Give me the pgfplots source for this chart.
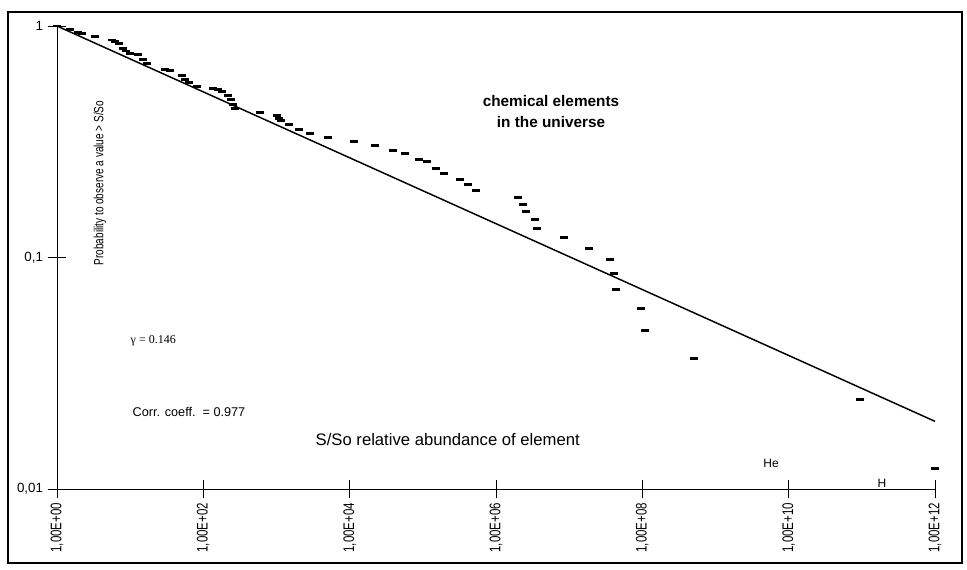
\documentclass[border=0pt]{standalone}
\usepackage{pgfplots}
\pgfplotsset{compat=1.18}
\usepackage{fontspec}
\setmainfont{Liberation Sans}
\newfontfamily\narrow[FakeStretch=0.75]{Liberation Sans}
\newfontfamily\tnr{Liberation Serif}

\begin{document}
\begin{tikzpicture}[x=0.75pt,y=-0.75pt]
% page = 967 x 570 px, 1 px = 0.75 pt, origin top left
\path (0,0) rectangle (967,570);
\draw[line width=1.5pt] (8,12) rectangle (962,563);

\begin{axis}[
  at={(42.75pt,-366.75pt)}, anchor=south west,
  scale only axis,
  width=658.5pt, height=347.25pt,
  xmode=log, ymode=log,
  xmin=1, xmax=1e12, ymin=0.01, ymax=1,
  axis x line=bottom, axis y line=left,
  axis line style={-, black, line width=0.6pt},
  clip=false,
  tick align=center,
  major tick length=14pt,
  tick style={black, line width=0.6pt},
  xminorticks=false, yminorticks=false,
  xtick={1,1e2,1e4,1e6,1e8,1e10,1e12},
  xticklabels={{1,00E+00},{1,00E+02},{1,00E+04},{1,00E+06},{1,00E+08},{1,00E+10},{1,00E+12}},
  ytick={0.01,0.1,1},
  yticklabels={{0,01},{0,1},{1}},
  xticklabel style={rotate=90, anchor=east, font=\narrow\fontsize{11.5}{12}\selectfont},
  yticklabel style={font=\fontsize{10}{11}\selectfont},
]
% fitted power law
\addplot[black, line width=1.1pt] coordinates {(1,1) (1e12,0.0196)};
% observed elements
\addplot[only marks, mark=-, mark size=3pt, mark options={line width=2.2pt, black}] coordinates {
(1,1.0) (1.5,0.97) (1.95,0.94) (2.2,0.93) (3.3,0.90)
(5.6,0.87) (6.3,0.855) (7.1,0.84) (7.9,0.80) (8.9,0.78) (10,0.76)
(12.9,0.75) (15,0.72) (17,0.69) (30,0.65) (35,0.64)
(51,0.61) (56,0.59) (63,0.57) (81,0.55) (135,0.535) (158,0.53)
(182,0.52) (219,0.50) (240,0.48) (257,0.46) (275,0.44)
(590,0.422) (1000,0.41) (1070,0.40) (1150,0.39) (1480,0.374)
(2040,0.356) (2880,0.342) (5000,0.329) (1.15e4,0.316) (2.24e4,0.304)
(3.9e4,0.289) (5.75e4,0.281) (8.9e4,0.264) (1.15e5,0.259) (1.51e5,0.242)
(1.95e5,0.230) (3.24e5,0.217) (4.17e5,0.206) (5.37e5,0.194)
(2.0e6,0.181) (2.34e6,0.169) (2.57e6,0.158) (3.39e6,0.146) (3.63e6,0.133)
(8.5e6,0.122) (1.86e7,0.109) (3.63e7,0.098) (4.07e7,0.085) (4.37e7,0.0728)
(9.55e7,0.0603) (1.10e8,0.0484) (5.13e8,0.0367) (9.3e10,0.0244) (1e12,0.0123)
};
\end{axis}

\node[font=\bfseries\fontsize{11.5}{15.75}\selectfont, align=center] at (551,112) {chemical elements\\in the universe};
\node[rotate=90, font=\narrow\fontsize{10}{11}\selectfont] at (100,183) {Probability to observe a value > S/So};
\node[anchor=west, font=\tnr\fontsize{9}{10}\selectfont] at (126,341) {γ = 0.146};
\node[anchor=west, font=\fontsize{9.5}{10}\selectfont] at (128,412) {Corr. coeff.\ \ = 0.977};
\node[anchor=west, font=\fontsize{12.5}{14}\selectfont] at (311,440) {S/So relative abundance of element};
\node[font=\fontsize{9}{10}\selectfont] at (771,463) {He};
\node[font=\fontsize{9}{10}\selectfont] at (882,483) {H};
\end{tikzpicture}
\end{document}
